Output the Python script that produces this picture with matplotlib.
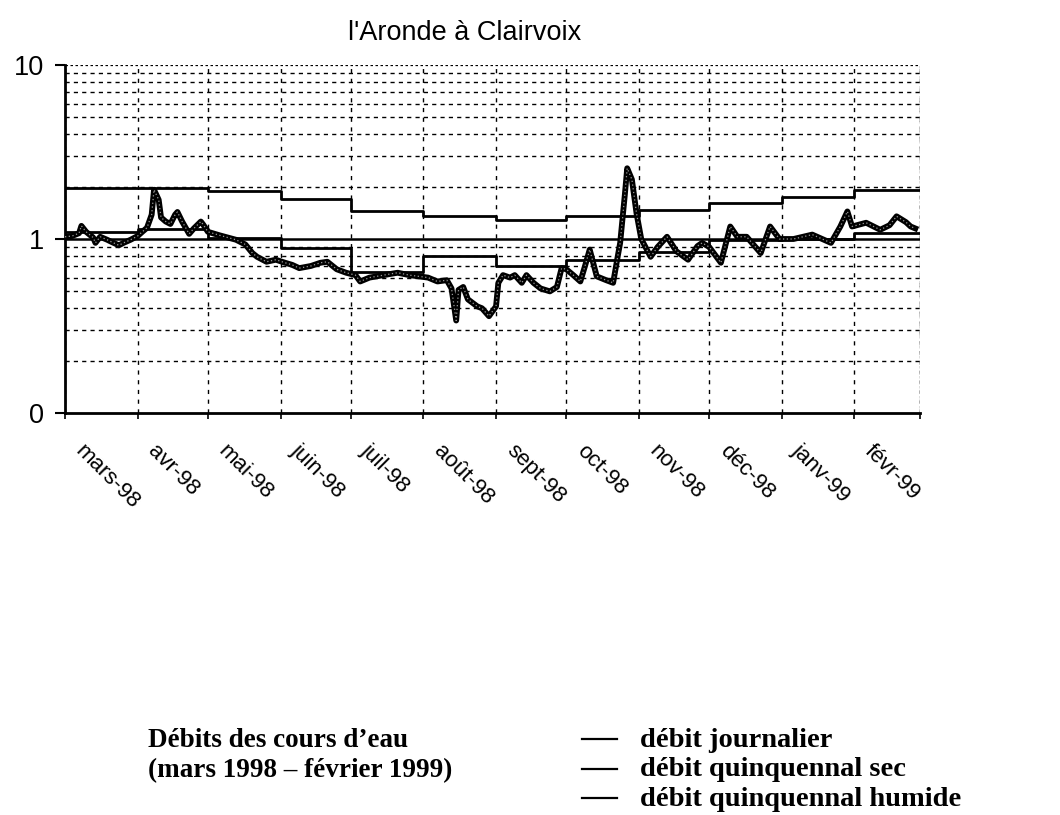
import numpy as np
import pandas as pd
import matplotlib
matplotlib.use('Agg')
import matplotlib.pyplot as plt
from matplotlib.ticker import FixedLocator, FixedFormatter, LogLocator, NullFormatter
from matplotlib.transforms import ScaledTranslation
from matplotlib.lines import Line2D

# Data (day number counted from 1 March 1998)
start = pd.Timestamp('1998-03-01')
jours = [0, 3, 6, 7, 9, 12, 13, 15, 18, 20, 23, 25, 28, 31,
         33, 35, 37, 38, 40, 41, 43, 45, 47, 48, 50, 52, 53, 55, 58, 59, 61,
         66, 73, 77, 80, 82, 86, 90, 94,
         97, 100, 105, 109, 112, 116, 120, 124,
         126, 130, 136, 142, 147, 155,
         159, 163, 165, 167, 168, 170, 172, 176, 178, 181, 184,
         185, 187, 190, 192, 195, 197, 200, 203, 207, 210, 212, 214,
         217, 220, 222, 224, 227, 231, 234, 236, 237, 239, 240, 242, 244,
         246, 250, 253, 257, 261, 266, 270, 272,
         275, 280, 284, 287, 291, 297, 301, 305,
         311, 319, 327, 331, 334, 336,
         342, 348, 352, 355, 359, 361, 363]
debit_journalier = [1.03, 1.04, 1.08, 1.19, 1.10, 1.02, 0.95, 1.03, 0.99, 0.96, 0.92, 0.95, 0.99, 1.04,
                    1.10, 1.16, 1.38, 1.92, 1.68, 1.33, 1.26, 1.22, 1.38, 1.43, 1.26, 1.13, 1.07, 1.15, 1.26, 1.21, 1.10,
                    1.05, 0.99, 0.93, 0.83, 0.79, 0.74, 0.76, 0.73,
                    0.71, 0.68, 0.70, 0.73, 0.74, 0.67, 0.64, 0.62,
                    0.57, 0.60, 0.62, 0.64, 0.62, 0.60,
                    0.57, 0.58, 0.52, 0.34, 0.51, 0.53, 0.45, 0.41, 0.40, 0.36, 0.41,
                    0.56, 0.62, 0.60, 0.62, 0.56, 0.62, 0.56, 0.52, 0.50, 0.53, 0.68, 0.67,
                    0.62, 0.57, 0.70, 0.87, 0.61, 0.58, 0.56, 0.80, 0.95, 1.80, 2.55, 2.20, 1.40,
                    1.00, 0.79, 0.90, 1.03, 0.85, 0.76, 0.91, 0.95,
                    0.90, 0.73, 1.18, 1.03, 1.03, 0.83, 1.18, 1.00,
                    1.00, 1.06, 0.95, 1.18, 1.44, 1.18,
                    1.24, 1.13, 1.20, 1.35, 1.25, 1.18, 1.15]

# monthly 5-year reference flows (one value per month, mars-98 .. févr-99)
mois = pd.date_range('1998-03-01', '1999-03-01', freq='MS')
quinquennal_humide = [1.97, 1.97, 1.89, 1.69, 1.45, 1.35, 1.29, 1.36, 1.46, 1.60, 1.74, 1.90]
quinquennal_sec = [1.10, 1.14, 1.02, 0.89, 0.65, 0.80, 0.70, 0.76, 0.84, 0.99, 1.00, 1.08]
mois_labels = ['mars-98', 'avr-98', 'mai-98', 'juin-98', 'juil-98', 'août-98',
               'sept-98', 'oct-98', 'nov-98', 'déc-98', 'janv-99', 'févr-99']
y_ticks = [0.1, 1, 10]
y_labels = ['0', '1', '10']

dates = start + pd.to_timedelta(jours, unit='D')

plt.rcParams['font.family'] = ['Liberation Sans', 'DejaVu Sans']

fig = plt.figure(figsize=(10.6, 8.15), dpi=100)
ax = fig.add_axes([65 / 1060, 1 - 413 / 815, 855 / 1060, 348 / 815])

# step lines repeat the last value so the last month is drawn to the end
ax.step(mois, quinquennal_humide + quinquennal_humide[-1:], where='post', color='black', lw=2.0, zorder=3)
ax.step(mois, quinquennal_sec + quinquennal_sec[-1:], where='post', color='black', lw=2.0, zorder=3)
ax.plot(dates, debit_journalier, color='black', lw=4.2, solid_joinstyle='round', zorder=4)
ax.plot(dates, debit_journalier, color='#9a9a9a', lw=0.9, ls=(0, (1, 2)), zorder=5)

ax.set_yscale('log')
ax.set_ylim(0.1, 10)
ax.set_xlim(mois[0], mois[-1])

ax.yaxis.set_major_locator(FixedLocator(y_ticks))
ax.yaxis.set_major_formatter(FixedFormatter(y_labels))
ax.yaxis.set_minor_locator(LogLocator(base=10, subs=np.arange(2, 10)))
ax.yaxis.set_minor_formatter(NullFormatter())

ax.set_xticks(mois)
ax.set_xticklabels(mois_labels + [''])

# grid: dashed minors, solid line at 1, dashed month separators
ax.grid(False)
ax.grid(which='minor', axis='y', color='black', lw=1.0, ls=(0, (3, 3)))
ax.grid(which='major', axis='x', color='black', lw=1.0, ls=(0, (3, 4)))
ax.axhline(1, color='black', lw=1.8, zorder=2)
ax.axhline(10, color='black', lw=0.9, ls=(0, (2, 2)), zorder=2)

for side in ['top', 'right']:
    ax.spines[side].set_visible(False)
ax.axvline(mois[-1], color='black', lw=0.9, ls=(0, (2, 2)))
ax.spines['left'].set_linewidth(2.0)
ax.spines['bottom'].set_linewidth(2.0)

ax.tick_params(axis='y', which='major', direction='out', length=7, width=1.5, pad=8, labelsize=19.5)
ax.tick_params(axis='y', which='minor', length=0)
ax.tick_params(axis='x', which='major', direction='out', length=4, width=1.2, pad=0, labelsize=16)

offset = ScaledTranslation(21 / 100, -22 / 100, fig.dpi_scale_trans)
for lab in ax.get_xticklabels():
    lab.set_rotation(-45)
    lab.set_ha('left')
    lab.set_va('top')
    lab.set_rotation_mode('anchor')
    lab.set_transform(lab.get_transform() + offset)

fig.text(465 / 1060, 1 - 33 / 815, "l'Aronde à Clairvoix", ha='center', va='center', fontsize=19.5)

# caption block below the chart
serif = ['Liberation Serif', 'DejaVu Serif']
fig.text(148 / 1060, 1 - 747 / 815, 'Débits des cours d’eau', family=serif, weight='bold',
         fontsize=19.5, ha='left', va='baseline')
fig.text(148 / 1060, 1 - 777 / 815, '(mars 1998 – février 1999)', family=serif, weight='bold',
         fontsize=19.5, ha='left', va='baseline')
legende = ['débit journalier', 'débit quinquennal sec', 'débit quinquennal humide']
for i, txt in enumerate(legende):
    base = 747 + 29.5 * i
    fig.add_artist(Line2D([582 / 1060, 617 / 1060], [1 - (base - 8) / 815] * 2, color='black', lw=1.6))
    fig.text(640 / 1060, 1 - base / 815, txt, family=serif, weight='bold', fontsize=20.5,
             ha='left', va='baseline')

fig.savefig('out.png', dpi=100)
